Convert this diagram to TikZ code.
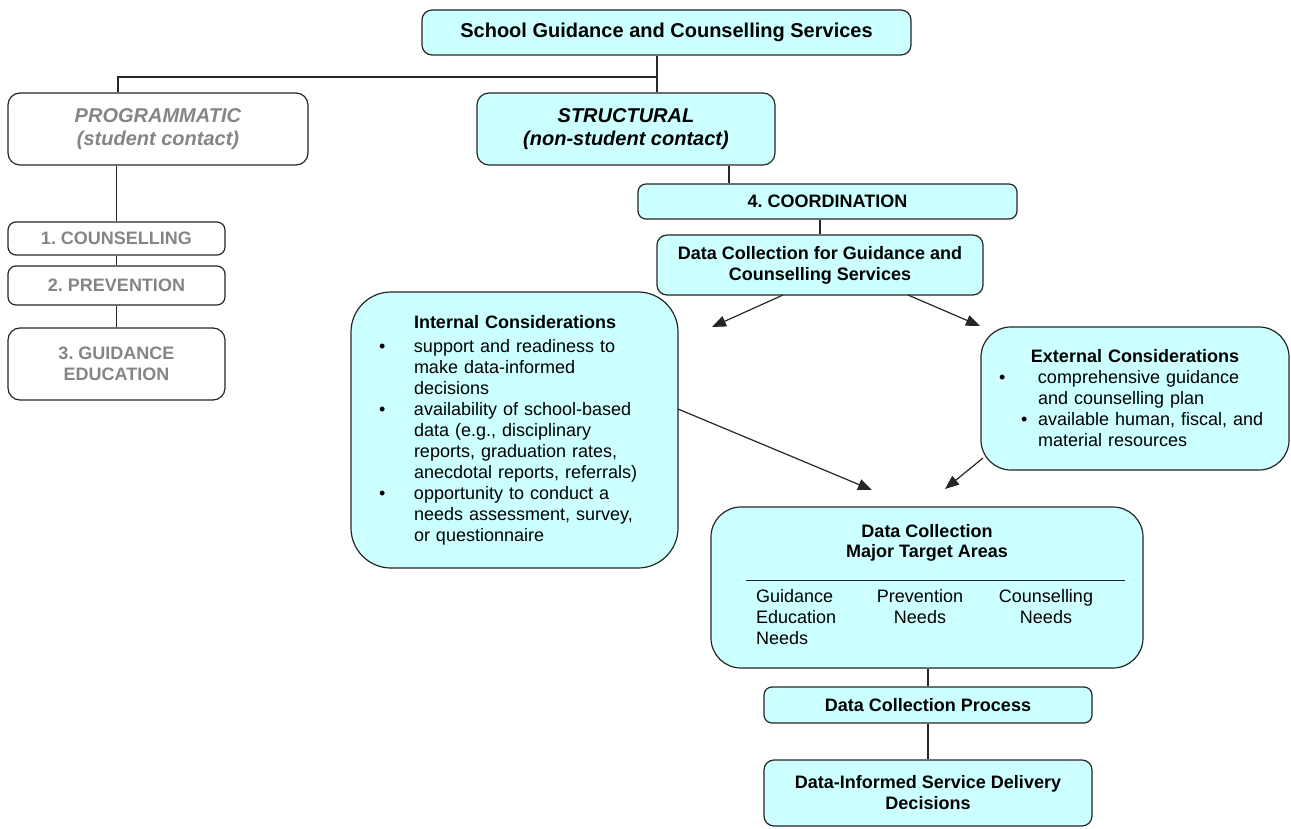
\documentclass[tikz,border=0pt]{standalone}
\usepackage{fontspec}
\setmainfont{Liberation Sans}
\usetikzlibrary{arrows.meta}
\definecolor{cyanfill}{HTML}{CCFFFF}
\definecolor{greytext}{HTML}{858585}
\definecolor{linecol}{HTML}{262626}
\frenchspacing
\tikzset{
  base/.style={draw=linecol, line width=1.2pt, inner sep=0pt, align=center,
               font=\fontsize{18}{21}\selectfont\bfseries},
  bigfont/.style={font=\fontsize{20}{23.5}\selectfont\bfseries},
  cbox/.style={base, fill=cyanfill},
  gbox/.style={base, fill=white, text=greytext},
  plaintext/.style={inner sep=0pt, font=\fontsize{18}{21}\selectfont},
  link/.style={draw=linecol, line width=1.2pt},
  arr/.style={link, -{Triangle[length=14pt,width=11pt]}},
}
\begin{document}
\begin{tikzpicture}[x=1pt,y=-1pt]
\useasboundingbox (0,0) rectangle (1291,829);

% top level
\node[cbox, bigfont, rounded corners=10pt, minimum width=489pt, minimum height=45pt] (top) at (666.5,32.5) {School Guidance and Counselling Services};
\node[gbox, bigfont, rounded corners=12pt, minimum width=300pt, minimum height=72pt] (prog) at (158,129) {\textit{PROGRAMMATIC}\\\textit{(student contact)}};
\node[cbox, bigfont, rounded corners=12pt, minimum width=298pt, minimum height=72pt] (struct) at (626,129) {\textit{STRUCTURAL}\\\textit{(non-student contact)}};

% programmatic branch
\node[gbox, rounded corners=8pt, minimum width=217pt, minimum height=33pt] (b1) at (116.5,238.5) {1. COUNSELLING};
\node[gbox, rounded corners=8pt, minimum width=217pt, minimum height=39pt] (b2) at (116.5,285.5) {2. PREVENTION};
\node[gbox, rounded corners=12pt, minimum width=217pt, minimum height=72pt] (b3) at (116.5,364) {3. GUIDANCE\\EDUCATION};

% structural branch
\node[cbox, rounded corners=8pt, minimum width=379pt, minimum height=35pt] (coord) at (827.5,201.5) {4. COORDINATION};
\node[cbox, rounded corners=10pt, minimum width=326pt, minimum height=60pt] (dc) at (820,265) {Data Collection for Guidance and\\Counselling Services};

\node[cbox, plaintext, draw=linecol, line width=1.2pt, rounded corners=40pt, minimum width=327pt, minimum height=276pt, text width=289pt, align=left] (int) at (514.5,430)
{\hspace*{44pt}\textbf{Internal Considerations}\\[3pt]
\makebox[44pt][l]{\hspace*{9pt}\textbullet}support and readiness to\\
\hspace*{44pt}make data-informed\\
\hspace*{44pt}decisions\\
\makebox[44pt][l]{\hspace*{9pt}\textbullet}availability of school-based\\
\hspace*{44pt}data (e.g., disciplinary\\
\hspace*{44pt}reports, graduation rates,\\
\hspace*{44pt}anecdotal reports, referrals)\\
\makebox[44pt][l]{\hspace*{9pt}\textbullet}opportunity to conduct a\\
\hspace*{44pt}needs assessment, survey,\\
\hspace*{44pt}or questionnaire};

\node[cbox, plaintext, draw=linecol, line width=1.2pt, rounded corners=30pt, minimum width=308pt, minimum height=143pt, text width=290pt, align=left] (ext) at (1135,398.5)
{\makebox[290pt][c]{\textbf{External Considerations}}\\
\makebox[48pt][l]{\hspace*{9pt}\textbullet}comprehensive guidance\\
\hspace*{48pt}and counselling plan\\
\makebox[48pt][l]{\hspace*{31pt}\textbullet}available human, fiscal, and\\
\hspace*{48pt}material resources};

\node[cbox, rounded corners=30pt, minimum width=432pt, minimum height=161pt] (maj) at (927,587.5) {};
\node[plaintext, font=\fontsize{18}{20}\selectfont\bfseries, align=center] (majt) at (927,543) {Data Collection\\Major Target Areas};
\coordinate (sepl) at (746,580);
\coordinate (sepr) at (1125,580);
\draw[link, line width=1pt] (sepl) -- (sepr);
\node[plaintext, align=left, anchor=north west] (colA) at (756,589.5) {Guidance\\Education\\Needs};
\node[plaintext, align=center, anchor=north] (colB) at (920,589.5) {Prevention\\Needs};
\node[plaintext, align=center, anchor=north] (colC) at (1046,589.5) {Counselling\\Needs};

\node[cbox, rounded corners=8pt, minimum width=328pt, minimum height=36pt] (dcp) at (928,705) {Data Collection Process};
\node[cbox, rounded corners=10pt, minimum width=328pt, minimum height=66pt] (dis) at (928,793) {Data-Informed Service Delivery\\Decisions};

% tree connectors
\coordinate (j) at (657,77);
\coordinate (jl) at (118,77);
\draw[link] (top.south -| j) -- (j);
\draw[link] (j) -- (struct.north -| j);
\draw[link] (j) -- (jl) -- (prog.north -| jl);
\draw[link] (prog.south -| b1.north) -- (b1.north);
\draw[link] (b1.south) -- (b2.north);
\draw[link] (b2.south) -- (b3.north);
\coordinate (sx) at (729,170);
\draw[link] (struct.south -| sx) -- (coord.north -| sx);
\draw[link] (coord.south -| dc.north) -- (dc.north);
\draw[link] (maj.south -| dcp.north) -- (dcp.north);
\draw[link] (dcp.south) -- (dis.north);

% arrows
\coordinate (s1) at (783,295);
\coordinate (t1) at (712,327);
\coordinate (s2) at (908,295);
\coordinate (t2) at (980,326);
\coordinate (s3) at (678,409);
\coordinate (t3) at (872,490);
\coordinate (s4) at (983,458);
\coordinate (t4) at (945,489);
\draw[arr] (s1) -- (t1);
\draw[arr] (s2) -- (t2);
\draw[arr] (s3) -- (t3);
\draw[arr] (s4) -- (t4);
\end{tikzpicture}
\end{document}
